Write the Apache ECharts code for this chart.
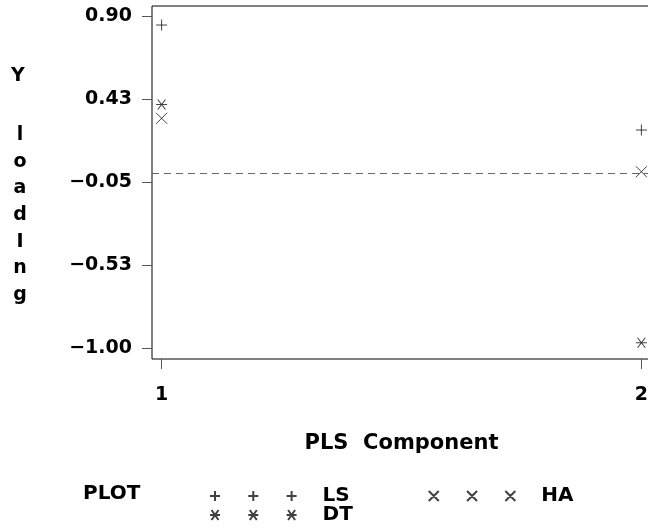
<!DOCTYPE html>
<html>
<head>
<meta charset="utf-8">
<title>Y Loading by PLS Component</title>
<script src="https://cdn.jsdelivr.net/npm/echarts@6/dist/echarts.min.js"></script>
<style>
  html, body { margin: 0; padding: 0; background: #fff; }
  #chart { width: 648px; height: 529px; }
</style>
</head>
<body>
<div id="chart"></div>
<script>
// PLS components on the horizontal axis
var components = [1, 2];

// Y loadings per response, one value per component
var loadingLS = [0.851, 0.250];
var loadingDT = [0.396, -0.968];
var loadingHA = [0.317, 0.011];

// Vertical axis ticks and their printed labels
var yTickValues = [-1.00, -0.525, -0.05, 0.425, 0.90];
var yTickLabels = ['\u22121.00', '\u22120.53', '\u22120.05', '0.43', '0.90'];
var xTickLabels = ['1', '2'];

// Reference level drawn as a dashed line
var referenceLevel = 0;

var FONT = 'DejaVu Sans';

// Marker outlines (stroked, not filled)
var PLUS = 'path://M5 0 L5 10 M0 5 L10 5';
var CROSS = 'path://M0 0 L10 10 M10 0 L0 10';
var STAR = 'path://M0 5 L10 5 M1.5 0 L8.5 10 M8.5 0 L1.5 10';

// Three copies of a marker in a row, used as legend keys
function triple(kind) {
  var step = 38.3, d = '';
  for (var i = 0; i < 3; i++) {
    var o = i * step;
    if (kind === 'plus') d += 'M' + (o + 5) + ' 0 L' + (o + 5) + ' 10 M' + o + ' 5 L' + (o + 10) + ' 5 ';
    if (kind === 'cross') d += 'M' + o + ' 0 L' + (o + 10) + ' 10 M' + (o + 10) + ' 0 L' + o + ' 10 ';
    if (kind === 'star') d += 'M' + o + ' 5 L' + (o + 10) + ' 5 M' + (o + 1.5) + ' 0 L' + (o + 8.5) + ' 10 M' + (o + 8.5) + ' 0 L' + (o + 1.5) + ' 10 ';
  }
  return 'path://' + d.trim();
}

function pairs(vals) {
  return components.map(function (c, i) { return [c, vals[i]]; });
}

var strokeStyle = { color: 'rgba(0,0,0,0)', borderColor: '#111', borderWidth: 1 };

var legendText = { fontFamily: FONT, fontWeight: 'bold', fontSize: 20, lineHeight: 20, color: '#000', padding: [0, 0, 0, 21] };

var chart = echarts.init(document.getElementById('chart'), null, { renderer: 'canvas' });

chart.setOption({
  animation: false,
  backgroundColor: '#fff',
  title: {
    text: 'PLOT',
    left: 78,
    top: 479,
    textStyle: { fontFamily: FONT, fontWeight: 'bold', fontSize: 20, color: '#000' }
  },
  grid: {
    left: 152,
    top: 6,
    right: -3,
    height: 353,
    outerBoundsMode: 'none',
    containLabel: false,
    show: true,
    borderColor: '#000',
    borderWidth: 1,
    backgroundColor: 'transparent'
  },
  legend: [
    {
      data: [
        { name: 'LS', icon: triple('plus') },
        { name: 'HA', icon: triple('cross') }
      ],
      left: 204,
      top: 481,
      itemWidth: 86.6,
      itemHeight: 10,
      itemGap: 78,
      selectedMode: false,
      textStyle: legendText
    },
    {
      data: [{ name: 'DT', icon: triple('star') }],
      left: 204,
      top: 500,
      itemWidth: 86.6,
      itemHeight: 10,
      selectedMode: false,
      textStyle: legendText
    }
  ],
  xAxis: {
    type: 'value',
    min: 0.98,
    max: 2.02,
    name: 'PLS  Component',
    nameLocation: 'middle',
    nameGap: 74,
    nameTextStyle: { fontFamily: FONT, fontWeight: 'bold', fontSize: 21, color: '#000' },
    axisLine: { show: false, onZero: false },
    splitLine: { show: false },
    axisTick: {
      show: true,
      length: 10,
      customValues: components,
      lineStyle: { color: '#555', width: 1 }
    },
    axisLabel: {
      customValues: components,
      margin: 27,
      fontFamily: FONT,
      fontWeight: 'bold',
      fontSize: 19,
      color: '#000',
      formatter: function (v) {
        var i = components.indexOf(v);
        return i >= 0 ? xTickLabels[i] : '';
      }
    }
  },
  yAxis: {
    type: 'value',
    min: -1.061,
    max: 0.960,
    axisLine: { show: false, onZero: false },
    splitLine: { show: false },
    axisTick: {
      show: true,
      length: 10,
      customValues: yTickValues,
      lineStyle: { color: '#555', width: 1 }
    },
    axisLabel: {
      customValues: yTickValues,
      margin: 20,
      fontFamily: FONT,
      fontWeight: 'bold',
      fontSize: 19,
      color: '#000',
      formatter: function (v) {
        for (var i = 0; i < yTickValues.length; i++) {
          if (Math.abs(yTickValues[i] - v) < 1e-6) return yTickLabels[i];
        }
        return '';
      }
    }
  },
  graphic: [
    {
      type: 'text',
      left: 11,
      top: 67,
      style: { text: 'Y', font: 'bold 19px "DejaVu Sans"', fill: '#000' }
    },
    {
      type: 'text',
      x: 20,
      y: 122,
      style: {
        text: 'l\no\na\nd\nI\nn\ng',
        font: 'bold 19px "DejaVu Sans"',
        lineHeight: 26.6,
        align: 'center',
        verticalAlign: 'top',
        fill: '#000'
      }
    }
  ],
  series: [
    {
      name: 'LS',
      type: 'scatter',
      symbol: PLUS,
      symbolSize: 11,
      itemStyle: strokeStyle,
      data: pairs(loadingLS),
      markLine: {
        silent: true,
        symbol: 'none',
        label: { show: false },
        lineStyle: { color: '#666', width: 1.2, type: [7, 5] },
        data: [{ yAxis: referenceLevel }]
      }
    },
    {
      name: 'HA',
      type: 'scatter',
      symbol: CROSS,
      symbolSize: 11,
      itemStyle: strokeStyle,
      data: pairs(loadingHA)
    },
    {
      name: 'DT',
      type: 'scatter',
      symbol: STAR,
      symbolSize: [11, 10],
      itemStyle: strokeStyle,
      data: pairs(loadingDT)
    }
  ]
});
</script>
</body>
</html>
